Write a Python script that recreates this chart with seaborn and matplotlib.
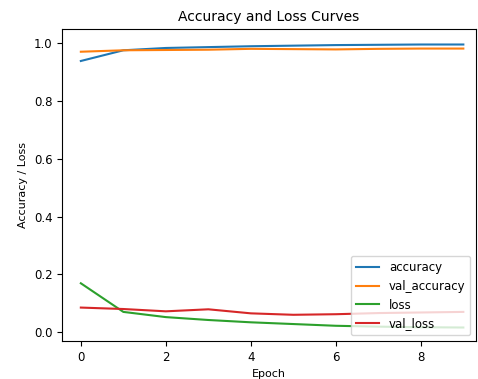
import numpy as np
import pandas as pd
import matplotlib
matplotlib.use("Agg")
import matplotlib.pyplot as plt
import seaborn as sns

epochs = [0, 1, 2, 3, 4, 5, 6, 7, 8, 9]
accuracy = [0.938, 0.975, 0.983, 0.986, 0.989, 0.991, 0.993, 0.994, 0.995, 0.995]
val_accuracy = [0.970, 0.975, 0.976, 0.977, 0.980, 0.979, 0.978, 0.980, 0.981, 0.981]
loss = [0.169, 0.070, 0.052, 0.042, 0.034, 0.028, 0.022, 0.019, 0.017, 0.016]
val_loss = [0.085, 0.080, 0.072, 0.079, 0.065, 0.060, 0.062, 0.066, 0.068, 0.070]
series_names = ["accuracy", "val_accuracy", "loss", "val_loss"]

df = pd.DataFrame({
    "Epoch": epochs * 4,
    "value": accuracy + val_accuracy + loss + val_loss,
    "metric": [n for n in series_names for _ in epochs],
})

plt.rcParams.update(plt.rcParamsDefault)
plt.rcParams["font.family"] = ["DejaVu Sans"]

fig = plt.figure(figsize=(4.78, 3.79), dpi=100)
ax = fig.add_axes([0.130, 0.100, 0.866, 0.823])
sns.lineplot(data=df, x="Epoch", y="value", hue="metric",
             palette=sns.color_palette("tab10", 4), ax=ax, linewidth=1.5)
ax.set_xlim(-0.44, 9.3)
ax.set_ylim(-0.031, 1.048)
ax.set_xticks([0, 2, 4, 6, 8])
ax.set_title("Accuracy and Loss Curves", fontsize=10)
ax.set_xlabel("Epoch", fontsize=8)
ax.set_ylabel("Accuracy / Loss", fontsize=8)
ax.tick_params(labelsize=8.5)
ax.legend(title=None, loc="lower right", fontsize=8.5)
fig.savefig("out.png", dpi=100)
